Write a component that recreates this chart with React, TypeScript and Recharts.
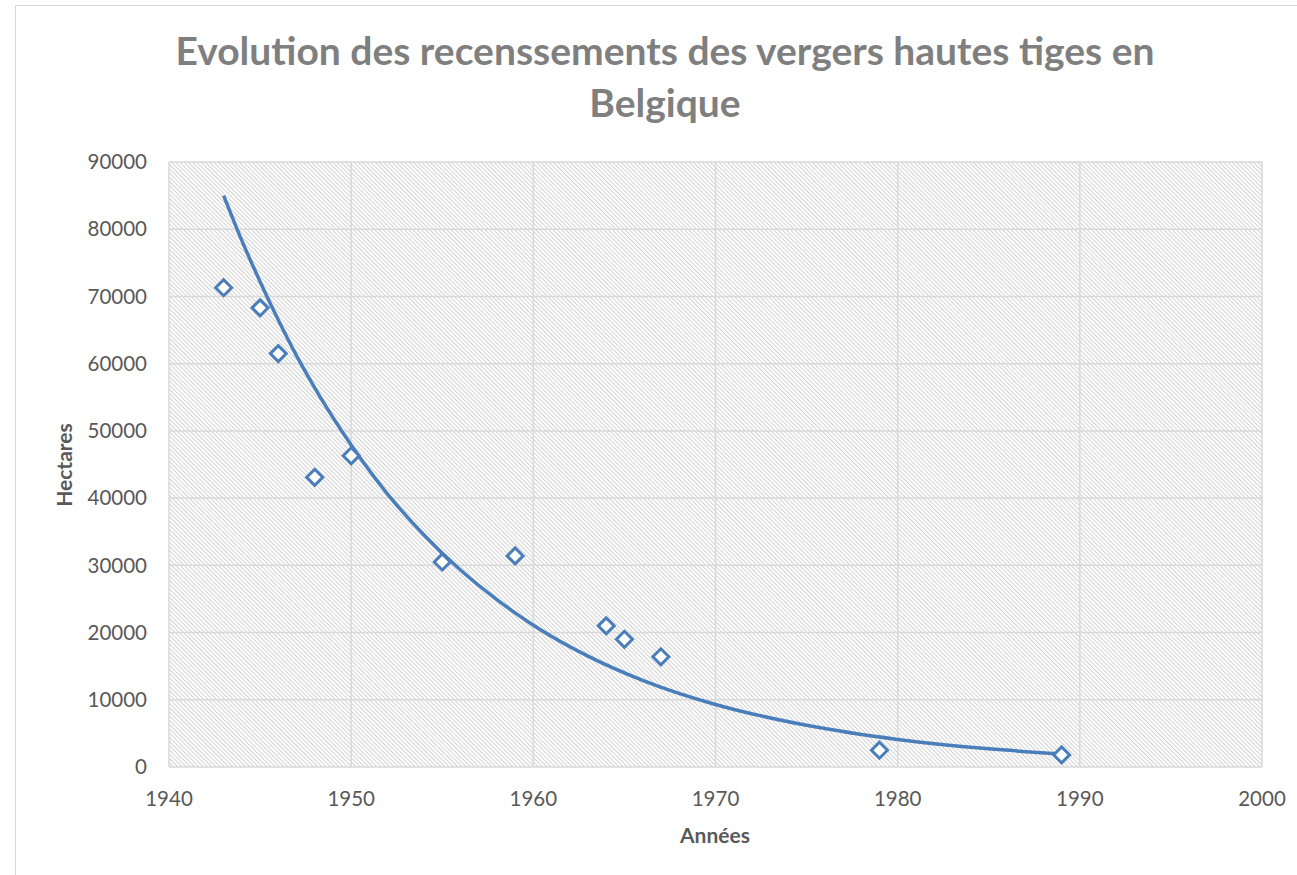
import React from "react";
import {
  ComposedChart,
  Scatter,
  Line,
  XAxis,
  YAxis,
  CartesianGrid,
} from "recharts";

// Observed census values (hectares)
const years = [1943, 1945, 1946, 1948, 1950, 1955, 1959, 1964, 1965, 1967, 1979, 1989];
const hectares = [71300, 68300, 61500, 43100, 46300, 30500, 31400, 21000, 19000, 16400, 2500, 1800];

// Exponential trend curve
const trendYears = [1943, 1944, 1945, 1946, 1947, 1948, 1950, 1952, 1954, 1956, 1958, 1960, 1963, 1966, 1970, 1975, 1980, 1985, 1989];
const trendValues = [85000, 78300, 72200, 66500, 61200, 56400, 47900, 40600, 34500, 29300, 24900, 21100, 16500, 12900, 9300, 6200, 4100, 2700, 1950];

const xTicks = [1940, 1950, 1960, 1970, 1980, 1990, 2000];
const yTicks = [0, 10000, 20000, 30000, 40000, 50000, 60000, 70000, 80000, 90000];

const titleLines = ["Evolution des recenssements des vergers hautes tiges en", "Belgique"];
const xTitle = "Années";
const yTitle = "Hectares";

const pointData = years.map((y, i) => ({ year: y, value: hectares[i] }));
const trendData = trendYears.map((y, i) => ({ year: y, trend: trendValues[i] }));

const BLUE = "#4a7ebb";
const FONT = "Lato, 'Open Sans', sans-serif";

const Diamond = (props: any) => {
  const { cx, cy } = props;
  if (cx == null || cy == null) return null;
  const r = 8;
  return (
    <polygon
      points={`${cx},${cy - r} ${cx + r},${cy} ${cx},${cy + r} ${cx - r},${cy}`}
      fill="#ffffff"
      stroke={BLUE}
      strokeWidth={3}
    />
  );
};

export default function App() {
  return (
    <div style={{ position: "absolute", left: 0, top: 0, width: 1297, height: 875, background: "#fff", overflow: "hidden" }}>
      <svg width={0} height={0} style={{ position: "absolute" }}>
        <defs>
          <pattern id="hatch" patternUnits="userSpaceOnUse" width={3} height={3} patternTransform="rotate(-45)">
            <rect width={3} height={3} fill="#ffffff" />
            <rect width={1} height={3} fill="#d2d2d2" />
          </pattern>
        </defs>
      </svg>
      <div
        style={{
          position: "absolute",
          left: 15,
          top: 5,
          width: 1400,
          height: 1000,
          borderLeft: "1.5px solid #d9d9d9",
          borderTop: "1.5px solid #d9d9d9",
        }}
      />
      <div style={{ position: "absolute", left: 0, top: 0 }}>
        <ComposedChart
          width={1297}
          height={875}
          margin={{ top: 162, right: 35, bottom: 68, left: 0 }}
        >
          <CartesianGrid fill="url(#hatch)" fillOpacity={1} stroke="#d9d9d9" strokeWidth={1.5} />
          <XAxis
            dataKey="year"
            type="number"
            domain={[1940, 2000]}
            ticks={xTicks}
            allowDataOverflow
            axisLine={false}
            tickLine={false}
            tickSize={0}
            tickMargin={24}
            height={40}
            tick={{ fill: "#595959", fontSize: 20.5, fontFamily: FONT }}
          />
          <YAxis
            type="number"
            domain={[0, 90000]}
            ticks={yTicks}
            allowDataOverflow
            axisLine={false}
            tickLine={false}
            tickSize={0}
            tickMargin={22}
            width={169}
            tick={{ fill: "#595959", fontSize: 20.5, fontFamily: FONT }}
          />
          <Line
            data={trendData}
            dataKey="trend"
            type="monotone"
            stroke={BLUE}
            strokeWidth={3.5}
            dot={false}
            activeDot={false}
            isAnimationActive={false}
          />
          <Scatter
            data={pointData}
            dataKey="value"
            shape={Diamond}
            isAnimationActive={false}
          />
        </ComposedChart>
      </div>
      <svg width={1297} height={875} style={{ position: "absolute", left: 0, top: 0, pointerEvents: "none" }}>
        <text x={665} y={65} textAnchor="middle" fontFamily={FONT} fontWeight={700} fontSize={39} fill="#7f7f7f">
          {titleLines[0]}
        </text>
        <text x={665} y={117} textAnchor="middle" fontFamily={FONT} fontWeight={700} fontSize={39} fill="#7f7f7f">
          {titleLines[1]}
        </text>
        <text x={72} y={465} transform="rotate(-90 72 465)" textAnchor="middle" fontFamily={FONT} fontWeight={700} fontSize={21} fill="#595959">
          {yTitle}
        </text>
        <text x={715} y={843} textAnchor="middle" fontFamily={FONT} fontWeight={700} fontSize={21} fill="#595959">
          {xTitle}
        </text>
      </svg>
    </div>
  );
}
